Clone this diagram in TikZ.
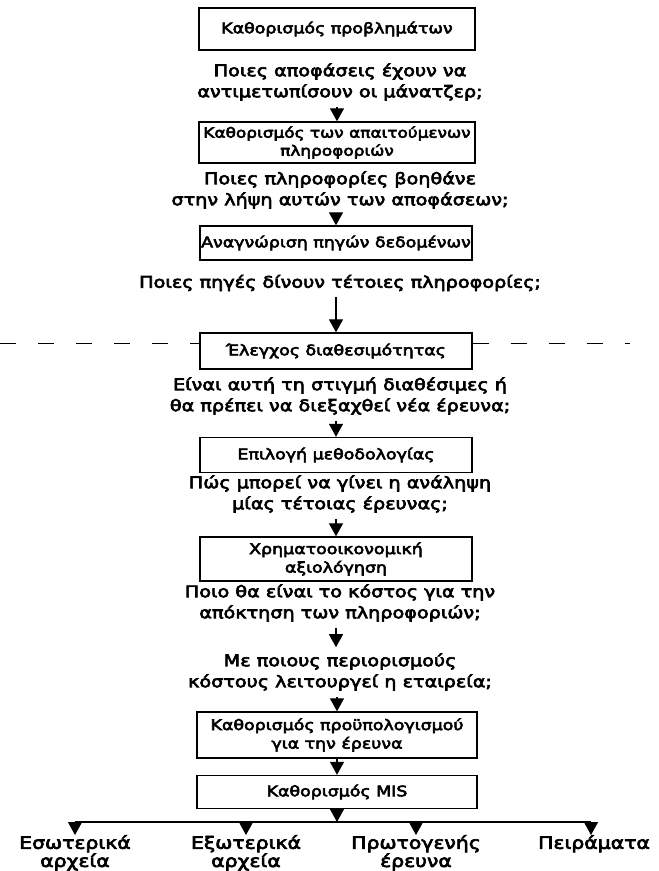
\documentclass[tikz,border=0pt]{standalone}
\usepackage{fontspec}
\setmainfont{DejaVu Sans}[FakeStretch=1.2,FakeBold=4]
\usetikzlibrary{arrows.meta}
\begin{document}
\begin{tikzpicture}[x=1pt,y=-1pt,
  box/.style={draw,line width=1.4pt,minimum width=276pt,align=center,inner sep=0pt,font=\fontsize{14.5}{18.5}\selectfont},
  q/.style={align=center,inner sep=0pt,font=\fontsize{16}{21}\selectfont},
  arr/.style={line width=1.3pt,-{Triangle[width=14pt,length=13pt]}},
  lbl/.style={align=center,inner sep=0pt,anchor=north,font=\fontsize{17}{15.5}\selectfont},
  scan/.style={line width=0.8pt,dash pattern=on 16pt off 22pt}]
\useasboundingbox (0,0) rectangle (659,871);

\node[box,minimum height=42pt] (b1) at (337,29) {Καθορισμός προβλημάτων};
\node[q] (q1) at (340,82) {Ποιες αποφάσεις έχουν να\\αντιμετωπίσουν οι μάνατζερ;};
\node[box,minimum height=41pt,font=\fontsize{14.1}{18}\selectfont] (b2) at (337,142.5) {Καθορισμός των απαιτούμενων\\πληροφοριών};
\node[q] (q2) at (340,190) {Ποιες πληροφορίες βοηθάνε\\στην λήψη αυτών των αποφάσεων;};
\node[box,minimum height=34pt,minimum width=272pt] (b3) at (336,243) {Αναγνώριση πηγών δεδομένων};
\node[q] (q3) at (340,283) {Ποιες πηγές δίνουν τέτοιες πληροφορίες;};
\node[box,minimum height=36pt,minimum width=272pt] (b4) at (336,351) {Έλεγχος διαθεσιμότητας};
\node[q] (q4) at (340,396) {Είναι αυτή τη στιγμή διαθέσιμες ή\\θα πρέπει να διεξαχθεί νέα έρευνα;};
\node[box,minimum height=35pt,minimum width=272pt] (b5) at (336,455) {Επιλογή μεθοδολογίας};
\node[q] (q5) at (340,494) {Πώς μπορεί να γίνει η ανάληψη\\μίας τέτοιας έρευνας;};
\node[box,minimum height=44pt,minimum width=272pt] (b6) at (336,559) {Χρηματοοικονομική\\αξιολόγηση};
\node[q] (q6) at (340,603) {Ποιο θα είναι το κόστος για την\\απόκτηση των πληροφοριών;};
\node[q] (q7) at (340,672) {Με ποιους περιορισμούς\\κόστους λειτουργεί η εταιρεία;};
\node[box,minimum height=46pt,minimum width=280pt] (b7) at (337,735) {Καθορισμός προϋπολογισμού\\για την έρευνα};
\node[box,minimum height=33pt,minimum width=280pt] (b8) at (337,792) {Καθορισμός MIS};

\draw[arr] ([yshift=-6pt]b2.north |- q1.south) -- (b2.north);
\draw[arr] ([yshift=-6pt]b3.north |- q2.south) -- (b3.north);
\draw[arr] ([yshift=-6pt]b4.north |- q3.south) -- (b4.north);
\draw[arr] ([yshift=-6pt]b5.north |- q4.south) -- (b5.north);
\draw[arr] ([yshift=-6pt]b6.north |- q5.south) -- (b6.north);
\draw[arr] ([yshift=-6pt]b6.north |- q6.south) -- ([yshift=6pt]b6.north |- q7.north);
\draw[arr] ([yshift=-6pt]b7.north |- q7.south) -- (b7.north);
\draw[arr] (b7.south) -- (b8.north);

\coordinate (bar) at (337,822);
\coordinate (t1) at (75,822);
\coordinate (t2) at (246,822);
\coordinate (t3) at (416,822);
\coordinate (t4) at (591,822);
\draw[arr] (b8.south) -- (bar);
\draw[line width=1.3pt] (t1) -- (t4);

\node[lbl] (l1) at (75,835) {Εσωτερικά\\αρχεία};
\node[lbl] (l2) at (246,835) {Εξωτερικά\\αρχεία};
\node[lbl] (l3) at (416,835) {Πρωτογενής\\έρευνα};
\node[lbl] (l4) at (594,835) {Πειράματα};
\draw[arr] (t1) -- (l1.north);
\draw[arr] (t2) -- (l2.north);
\draw[arr] (t3) -- (l3.north);
\draw[arr] (t4) -- (t4 |- l4.north);

\coordinate (d0) at (0,343);
\coordinate (d1) at (630,343);
\draw[scan] (d0) -- (b4.west |- d0);
\draw[scan] (b4.east |- d0) -- (d1);
\end{tikzpicture}
\end{document}
